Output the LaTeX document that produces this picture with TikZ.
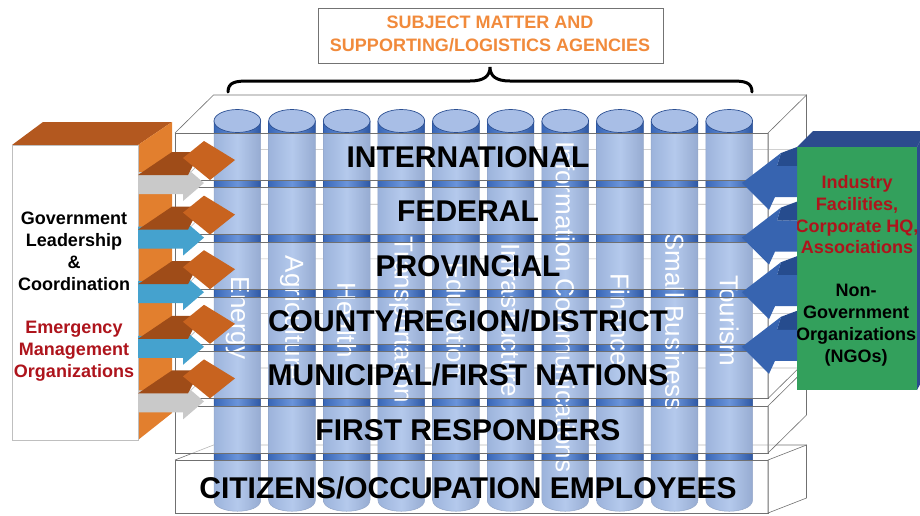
\documentclass[tikz,border=0pt]{standalone}
\usepackage{fontspec}
\setmainfont{Liberation Sans}
\definecolor{wirec}{HTML}{707070}
\definecolor{cylL}{HTML}{3A68B8}
\definecolor{cylM}{HTML}{6A94DA}
\definecolor{cylR}{HTML}{2E58A4}
\definecolor{cyltop}{HTML}{A8BEE6}
\definecolor{cyledge}{HTML}{2B4F92}
\definecolor{boxtop}{HTML}{B3581F}
\definecolor{boxside}{HTML}{E27F2E}
\definecolor{rhomb}{HTML}{C8631F}
\definecolor{shafttop}{HTML}{9F4C18}
\definecolor{arrgray}{HTML}{C9C9C9}
\definecolor{arrblue}{HTML}{45A2CE}
\definecolor{grn}{HTML}{33A05C}
\definecolor{navy}{HTML}{2C4B8E}
\definecolor{rarr}{HTML}{3764B0}
\definecolor{rarrtop}{HTML}{264C8E}
\definecolor{dred}{HTML}{AE141C}
\definecolor{orangetxt}{HTML}{F18A3B}
\begin{document}
\begin{tikzpicture}[x=1pt,y=-1pt,
  wire/.style={draw=wirec,line width=0.6pt},
  layertext/.style={font=\fontsize{30}{36}\selectfont\bfseries,anchor=base,inner sep=0pt},
  cyltext/.style={font=\fontsize{26}{30}\selectfont,text=white,rotate=-90,inner sep=0pt},
  sidetext/.style={font=\fontsize{18}{22}\selectfont\bfseries,anchor=base,inner sep=0pt},
  toptext/.style={font=\fontsize{18}{22}\selectfont\bfseries,text=orangetxt,anchor=base,inner sep=0pt},
]
\useasboundingbox (0,0) rectangle (920,515);

% back wires of the slabs
\foreach \k in {0,...,5}{
  \pgfmathsetmacro\yt{133+54.6*\k}
  \draw[wire] (175,\yt) -- (213.5,\yt-38) -- (806.5,\yt-38);
}
\draw[wire] (175,460) -- (213.5,445) -- (806.5,445);

% cylinders
\foreach \lab/\ly [count=\i from 0] in {Energy/318,Agriculture/318,Health/320,Transportation/320,Education/320,Infrastructure/320,Information Communications/307,Finance/320,Small Business/322,Tourism/321}{
  \pgfmathsetmacro\xa{214+54.65*\i}
  \pgfmathsetmacro\xb{\xa+46.7}
  \pgfmathsetmacro\xc{\xa+23.35}
  \shadedraw[left color=cylL,right color=cylR,middle color=cylM,draw=cyledge,line width=0.5pt]
    (\xa,121) -- (\xa,500) .. controls (\xa,515) and (\xb,515) .. (\xb,500) -- (\xb,121) -- cycle;
  \filldraw[fill=cyltop,draw=cyledge,line width=0.7pt] (\xc,121) ellipse [x radius=23.35pt,y radius=11.5pt];
  \node[cyltext] (cl\i) at (\xc,\ly) {\lab};
}

% slab fronts and right faces
\foreach \k in {0,...,5}{
  \pgfmathsetmacro\yt{133+54.6*\k}
  \pgfmathsetmacro\yb{\yt+47}
  \fill[white,opacity=0.5] (175,\yt) rectangle (768,\yb);
  \draw[wire] (175,\yt) rectangle (768,\yb);
  \filldraw[wire,fill=white,fill opacity=0.5] (768,\yt) -- (806.5,\yt-38) -- (806.5,\yb-38) -- (768,\yb) -- cycle;
}
\fill[white,opacity=0.5] (175,460) rectangle (768,513);
\draw[wire] (175,460) rectangle (768,513);
\filldraw[wire,fill=white,fill opacity=0.5] (768,460) -- (806.5,445) -- (806.5,498) -- (768,513) -- cycle;

% layer labels
\node[layertext] (l1) at (468,167.2) {INTERNATIONAL};
\node[layertext] (l2) at (468,221.7) {FEDERAL};
\node[layertext] (l3) at (468,276.4) {PROVINCIAL};
\node[layertext] (l4) at (468,331) {COUNTY/REGION/DISTRICT};
\node[layertext] (l5) at (468,385.7) {MUNICIPAL/FIRST NATIONS};
\node[layertext] (l6) at (468,440.2) {FIRST RESPONDERS};
\node[layertext] (l7) at (468,498) {CITIZENS/OCCUPATION EMPLOYEES};

% left box
\fill[boxtop] (12,145) -- (43,122) -- (172,122) -- (138,145) -- cycle;
\fill[boxside] (138,145) -- (172,122) -- (172,413) -- (138,440) -- cycle;
\filldraw[fill=white,draw=black!25] (12,145) rectangle (138,440);
\node[sidetext] (g1) at (74,224.5) {Government};
\node[sidetext] (g2) at (74,246.5) {Leadership};
\node[sidetext] (g3) at (74,268) {\&};
\node[sidetext] (g4) at (74,290) {Coordination};
\node[sidetext,text=dred] (e1) at (74,333.5) {Emergency};
\node[sidetext,text=dred] (e2) at (74,355) {Management};
\node[sidetext,text=dred] (e3) at (74,377) {Organizations};

% left arrows
\foreach \k/\col in {0/arrgray,1/arrblue,2/arrblue,3/arrblue,4/arrgray}{
  \pgfmathsetmacro\cy{160+54.6*\k}
  \fill[\col] (138,\cy+12) -- (183,\cy+12) -- (183,\cy+5) -- (204,\cy+23) -- (183,\cy+41) -- (183,\cy+34) -- (138,\cy+34) -- cycle;
  \fill[shafttop] (138,\cy+15) -- (172,\cy-8) -- (200,\cy-8) -- (188,\cy+15) -- cycle;
  \fill[rhomb] (183,\cy-2) -- (204,\cy-19) -- (235,\cy) -- (210,\cy+20) -- cycle;
}

% right box
\fill[navy] (797,147) -- (813,131) -- (925,131) -- (917,147) -- cycle;
\fill[navy] (917,147) -- (925,131) -- (925,375) -- (917,390) -- cycle;
\fill[grn] (797,147) rectangle (917,390);
\node[sidetext,text=dred] (i1) at (857,188.5) {Industry};
\node[sidetext,text=dred] (i2) at (857,210) {Facilities,};
\node[sidetext,text=dred] (i3) at (857,232) {Corporate HQ,};
\node[sidetext,text=dred] (i4) at (857,253.5) {Associations};
\node[sidetext] (n1) at (856,296.5) {Non-};
\node[sidetext] (n2) at (856,318.5) {Government};
\node[sidetext] (n3) at (856,340.5) {Organizations};
\node[sidetext] (n4) at (856,362.5) {(NGOs)};

% right arrows
\foreach \j in {0,...,3}{
  \pgfmathsetmacro\cy{183+54.6*\j}
  \fill[rarrtop] (777,\cy-17) -- (781,\cy-30) -- (797,\cy-36) -- (797,\cy-17) -- cycle;
  \fill[rarr] (742,\cy) -- (781,\cy-30) -- (777,\cy-17) -- (797,\cy-17) -- (797,\cy+14) -- (775,\cy+14) -- (769,\cy+27) -- cycle;
}

% top box and brace
\node[draw=black!55,fill=white,minimum width=345pt,minimum height=55pt,inner sep=0pt] (topbox) at (490.5,35.5) {};
\node[toptext] (t1) at (490,28.5) {SUBJECT MATTER AND};
\node[toptext] (t2) at (490,51.5) {SUPPORTING/LOGISTICS AGENCIES};
\draw[line width=3pt,line cap=round] (228,92) .. controls (228,82) and (236,81) .. (248,81) -- (470,81) .. controls (484,81) and (490,76) .. (490,67) .. controls (490,76) and (496,81) .. (510,81) -- (732,81) .. controls (744,81) and (752,82) .. (752,92);
\end{tikzpicture}
\end{document}
